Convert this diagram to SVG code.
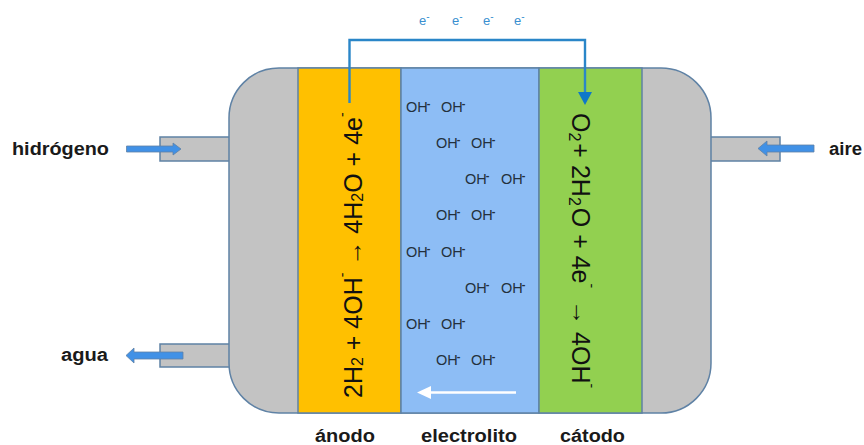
<svg xmlns="http://www.w3.org/2000/svg" width="864" height="445" viewBox="0 0 864 445">
<style>
text{font-family:"Liberation Sans",Arial,sans-serif}
.s{stroke:#5f82a5;stroke-width:1.5}
.g{fill:#c3c3c3}
.lab{font-size:18px;font-weight:bold;fill:#1a1a1a}
.oh{font-size:14.5px;fill:#24303c}
.oh .sup{font-size:11px;font-weight:bold}
.e{font-size:13px;fill:#3a8fd0}
.eq{font-size:25px;fill:#111}
.sub{font-size:16px}
.sup{font-size:14px}
.flow{fill:#4191e6;stroke:#5f82a5;stroke-width:.8}
</style>
<g id="tubes">
<rect class="g s" x="160" y="137" width="70" height="24"/>
<rect class="g s" x="160" y="344" width="70" height="23"/>
<rect class="g s" x="710" y="137" width="70" height="24"/>
</g>
<g id="body"><rect class="g s" x="229" y="68" width="482" height="345" rx="50" ry="50"/></g>
<g id="anodo">
<rect class="s" fill="#ffc000" x="298" y="68" width="103" height="345"/>
<text class="eq" transform="translate(362 398) rotate(-90)">2H<tspan class="sub" dy="1">2</tspan><tspan dy="-1"> + 4OH</tspan><tspan class="sup" dy="-15">-</tspan><tspan dy="15"> → 4H</tspan><tspan class="sub" dy="1">2</tspan><tspan dy="-1">O + 4e</tspan><tspan class="sup" dy="-15">-</tspan></text>
<text class="lab" x="315" y="442" textLength="60" lengthAdjust="spacingAndGlyphs">ánodo</text>
</g>
<g id="electrolito">
<rect class="s" fill="#8dbdf5" x="401" y="68" width="138" height="345"/>
<g class="oh">
<text x="406" y="112">OH<tspan class="sup" dx="-1" dy="-5">-</tspan></text><text x="441" y="112">OH<tspan class="sup" dx="-1" dy="-5">-</tspan></text>
<text x="436" y="148">OH<tspan class="sup" dx="-1" dy="-5">-</tspan></text><text x="471" y="148">OH<tspan class="sup" dx="-1" dy="-5">-</tspan></text>
<text x="465" y="184">OH<tspan class="sup" dx="-1" dy="-5">-</tspan></text><text x="501" y="184">OH<tspan class="sup" dx="-1" dy="-5">-</tspan></text>
<text x="436" y="220">OH<tspan class="sup" dx="-1" dy="-5">-</tspan></text><text x="471" y="220">OH<tspan class="sup" dx="-1" dy="-5">-</tspan></text>
<text x="406" y="257">OH<tspan class="sup" dx="-1" dy="-5">-</tspan></text><text x="441" y="257">OH<tspan class="sup" dx="-1" dy="-5">-</tspan></text>
<text x="465" y="293">OH<tspan class="sup" dx="-1" dy="-5">-</tspan></text><text x="501" y="293">OH<tspan class="sup" dx="-1" dy="-5">-</tspan></text>
<text x="406" y="329">OH<tspan class="sup" dx="-1" dy="-5">-</tspan></text><text x="441" y="329">OH<tspan class="sup" dx="-1" dy="-5">-</tspan></text>
<text x="436" y="365">OH<tspan class="sup" dx="-1" dy="-5">-</tspan></text><text x="471" y="365">OH<tspan class="sup" dx="-1" dy="-5">-</tspan></text>
</g>
<text class="lab" x="421" y="442" textLength="96" lengthAdjust="spacingAndGlyphs">electrolito</text>
</g>
<g id="catodo">
<rect class="s" fill="#92d050" x="539" y="68" width="103" height="345"/>
<text class="eq" transform="translate(572 113) rotate(90)">O<tspan class="sub" dy="3">2</tspan><tspan dx="2" dy="-3">+ 2H</tspan><tspan class="sub" dy="3">2</tspan><tspan dx="2" dy="-3">O + 4e</tspan><tspan class="sup" dy="-15">-</tspan><tspan dx="5" dy="15"> → 4OH</tspan><tspan class="sup" dy="-15">-</tspan></text>
<text class="lab" x="560" y="442" textLength="65" lengthAdjust="spacingAndGlyphs">cátodo</text>
</g>
<g id="labels">
<text class="lab" x="12" y="155" textLength="97" lengthAdjust="spacingAndGlyphs">hidrógeno</text>
<text class="lab" x="61" y="361" textLength="47" lengthAdjust="spacingAndGlyphs">agua</text>
<text class="lab" x="829" y="155" textLength="33" lengthAdjust="spacingAndGlyphs">aire</text>
<text class="e" x="419" y="25">e<tspan font-size="10" dy="-5">-</tspan></text>
<text class="e" x="452" y="25">e<tspan font-size="10" dy="-5">-</tspan></text>
<text class="e" x="483" y="25">e<tspan font-size="10" dy="-5">-</tspan></text>
<text class="e" x="514" y="25">e<tspan font-size="10" dy="-5">-</tspan></text>
</g>
<g id="connectors">
<path d="M349.500 103V40H585V92" fill="none" stroke="#2a86c8" stroke-width="2.400"/>
<path d="M578 92H592L585 105Z" fill="#0f78c8"/>
<path class="flow" d="M126.500 146H173V143L181 149L173 155V152H126.500Z"/>
<path class="flow" d="M183 352V359H134V363L126 355.500L134 348V352Z"/>
<path class="flow" d="M814 145V152H767V156L758 148.500L767 141V145Z"/>
<path d="M516 392.500H425" fill="none" stroke="#fff" stroke-width="2.500"/>
<path d="M417 392.500L431 386V399Z" fill="#fff"/>
</g>
</svg>
